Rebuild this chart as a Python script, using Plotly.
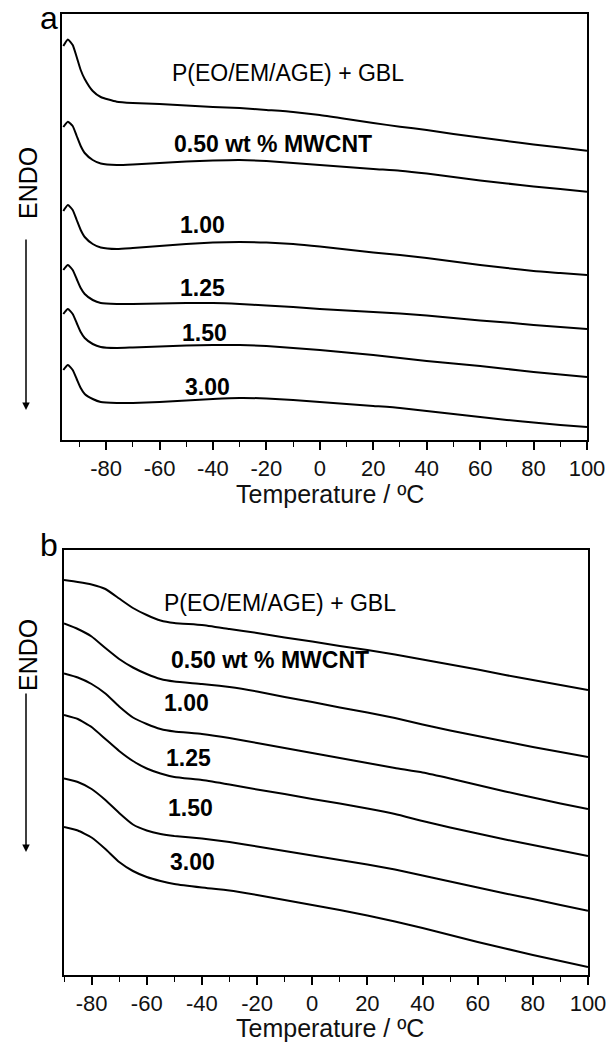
import plotly.graph_objects as go

# ---------------- Data (heat flow in a.u.) ----------------
# Panel a
temp_a = [-96, -94.3, -92.5, -91, -89.5, -88, -85, -82, -76, -70, -60, -50, -40, -30,
          -20, -10, 0, 10, 20, 30, 40, 50, 60, 70, 80, 90, 100]
a_base = [39.4, 40.05, 39.5, 38.3, 37.0, 36.1, 34.9, 34.3, 33.83, 33.7, 33.6, 33.45, 33.3, 33.2,
          33.0, 32.8, 32.5, 32.1, 31.7, 31.33, 31.0, 30.6, 30.25, 29.9, 29.55, 29.25, 28.93]
a_050 = [31.3, 31.83, 31.4, 30.4, 29.4, 28.7, 28.0, 27.65, 27.5, 27.55, 27.7, 27.85, 27.95, 28.0,
         27.9, 27.7, 27.5, 27.3, 27.1, 26.93, 26.65, 26.3, 25.95, 25.65, 25.35, 25.1, 24.83]
a_100 = [22.9, 23.5, 23.0, 22.0, 21.0, 20.3, 19.6, 19.25, 19.1, 19.2, 19.4, 19.6, 19.75, 19.8,
         19.75, 19.6, 19.35, 19.05, 18.75, 18.5, 18.2, 17.85, 17.5, 17.2, 16.9, 16.7, 16.5]
a_125 = [17.0, 17.5, 17.0, 16.1, 15.2, 14.6, 14.0, 13.7, 13.6, 13.6, 13.65, 13.7, 13.7, 13.6,
         13.45, 13.3, 13.1, 12.95, 12.8, 12.65, 12.45, 12.2, 11.95, 11.75, 11.5, 11.3, 11.1]
a_150 = [12.6, 13.1, 12.6, 11.7, 10.8, 10.2, 9.6, 9.3, 9.2, 9.25, 9.35, 9.45, 9.5, 9.5,
         9.4, 9.2, 9.0, 8.75, 8.5, 8.2, 7.9, 7.65, 7.4, 7.1, 6.8, 6.55, 6.3]
a_300 = [7.0, 7.5, 7.0, 6.1, 5.2, 4.6, 4.1, 3.8, 3.7, 3.7, 3.8, 3.95, 4.1, 4.2,
         4.15, 4.0, 3.8, 3.6, 3.4, 3.2, 2.9, 2.6, 2.3, 2.0, 1.75, 1.5, 1.3]

# Panel b
temp_b = [-90, -85, -80, -75, -70, -65, -60, -55, -50, -40, -30, -20, -10, 0,
          10, 20, 30, 40, 50, 60, 70, 80, 90, 100]
b_base = [39.5, 39.3, 39.05, 38.6, 37.65, 36.7, 36.0, 35.45, 35.2, 35.0, 34.6, 34.2, 33.75, 33.35,
          32.9, 32.5, 32.05, 31.55, 31.05, 30.55, 30.0, 29.5, 29.0, 28.5]
b_050 = [35.15, 34.6, 33.85, 32.7, 31.6, 30.75, 30.1, 29.6, 29.35, 29.1, 28.8, 28.35, 27.8, 27.3,
         26.75, 26.25, 25.7, 25.05, 24.45, 23.9, 23.35, 22.8, 22.3, 21.8]
b_100 = [30.15, 29.75, 29.1, 28.15, 26.85, 25.75, 25.1, 24.6, 24.35, 24.1, 23.7, 23.2, 22.7, 22.2,
         21.7, 21.2, 20.7, 20.25, 19.65, 19.0, 18.35, 17.75, 17.15, 16.6]
b_125 = [26.0, 25.6, 24.8, 23.6, 22.4, 21.4, 20.65, 20.15, 19.8, 19.5, 19.05, 18.55, 18.1, 17.6,
         17.15, 16.65, 16.1, 15.4, 14.75, 14.15, 13.55, 13.0, 12.45, 11.9]
b_150 = [19.65, 19.3, 18.6, 17.5, 16.2, 15.05, 14.45, 14.1, 13.9, 13.65, 13.3, 12.85, 12.4, 11.95,
         11.5, 11.05, 10.55, 9.95, 9.35, 8.75, 8.15, 7.6, 7.0, 6.43]
b_300 = [14.8, 14.45, 13.75, 12.6, 11.3, 10.4, 9.8, 9.4, 9.1, 8.75, 8.45, 8.0, 7.5, 7.0,
         6.5, 5.95, 5.35, 4.7, 4.0, 3.3, 2.65, 2.0, 1.4, 0.8]

series_names = ["P(EO/EM/AGE) + GBL", "0.50 wt % MWCNT", "1.00", "1.25", "1.50", "3.00"]
series_a = [a_base, a_050, a_100, a_125, a_150, a_300]
series_b = [b_base, b_050, b_100, b_125, b_150, b_300]

# curve label positions (temperature, heat-flow a.u.)
label_pos_a = [(-56, 36.7), (-55.3, 29.6), (-44, 21.5), (-44, 15.2), (-43.3, 10.7), (-42.2, 5.3)]
label_pos_b = [(-54.3, 37.2), (-52.1, 31.5), (-45.6, 27.2), (-44.9, 21.7), (-44.1, 16.7), (-43.4, 11.3)]

tick_vals = [-80, -60, -40, -20, 0, 20, 40, 60, 80, 100]
tick_text = ["-80", "-60", "-40", "-20", "0", "20", "40", "60", "80", "100"]
xtitle = "Temperature / ºC"

FONT = "Liberation Sans, Arial, Helvetica, sans-serif"
W, H = 609, 1044


def fx(px):
    return px / W


def fy(py):
    return 1 - py / H


fig = go.Figure()
for ys in series_a:
    fig.add_trace(go.Scatter(x=temp_a, y=ys, mode="lines",
                             line=dict(color="black", width=2, shape="spline", smoothing=0.5),
                             xaxis="x", yaxis="y", showlegend=False, hoverinfo="skip"))
for ys in series_b:
    fig.add_trace(go.Scatter(x=temp_b, y=ys, mode="lines",
                             line=dict(color="black", width=2, shape="spline", smoothing=0.4),
                             xaxis="x2", yaxis="y2", showlegend=False, hoverinfo="skip"))


def xax(domain, rng, anchor):
    return dict(domain=domain, range=rng, anchor=anchor, showline=True, mirror=True, automargin=False,
                linecolor="black", linewidth=1.6, showgrid=False, zeroline=False,
                ticks="outside", ticklen=8, tickwidth=1.5, tickcolor="black",
                tickvals=tick_vals, ticktext=tick_text,
                tickfont=dict(family=FONT, size=22, color="#111"),
                minor=dict(dtick=10, tick0=-80, ticks="outside", ticklen=5, tickwidth=1.3, tickcolor="black"))


def yax(domain, rng, anchor):
    return dict(domain=domain, range=rng, anchor=anchor, showline=True, mirror=True, automargin=False,
                linecolor="black", linewidth=1.6, showgrid=False, zeroline=False,
                showticklabels=False, ticks="")


fig.update_layout(
    width=W, height=H, margin=dict(l=0, r=0, t=0, b=0, autoexpand=False),
    paper_bgcolor="white", plot_bgcolor="white",
    xaxis=xax([fx(62), fx(587)], [-96.5, 100], "y"),
    yaxis=yax([fy(440), fy(14)], [0, 42.6], "x"),
    xaxis2=xax([fx(64), fx(588)], [-90, 100], "y2"),
    yaxis2=yax([fy(975), fy(550)], [0, 42.5], "x2"),
)

ann = []
for axn, positions in [("", label_pos_a), ("2", label_pos_b)]:
    for i, (name, (tx, ty)) in enumerate(zip(series_names, positions)):
        bold = i > 0
        ann.append(dict(x=tx, y=ty, xref="x" + axn, yref="y" + axn,
                        text=("<b>%s</b>" % name) if bold else name,
                        showarrow=False, xanchor="left" if i < 2 else "center", yanchor="middle",
                        font=dict(family=FONT, size=23, color="black")))

# x-axis titles (bottom edge of the text box given in window pixels)
for (cx, cy_bottom) in [(330, 510), (330, 1044)]:
    ann.append(dict(x=fx(cx), y=fy(cy_bottom), xref="paper", yref="paper", text=xtitle, showarrow=False,
                    xanchor="center", yanchor="bottom", font=dict(family=FONT, size=25, color="#111")))

# panel letters
ann.append(dict(x=fx(38), y=fy(18), xref="paper", yref="paper", text="a", showarrow=False,
                font=dict(family=FONT, size=32, color="black"), xanchor="left", yanchor="middle"))
ann.append(dict(x=fx(38), y=fy(545), xref="paper", yref="paper", text="b", showarrow=False,
                font=dict(family=FONT, size=32, color="black"), xanchor="left", yanchor="middle"))

# ENDO labels with arrows
for (ty, y0, y1) in [(183, 238, 410), (655, 692, 852)]:
    ann.append(dict(x=fx(28), y=fy(ty), xref="paper", yref="paper", text="ENDO", textangle=-90,
                    showarrow=False, xanchor="center", yanchor="middle",
                    font=dict(family=FONT, size=25, color="black")))
    ann.append(dict(x=fx(26), y=fy(y1), xref="paper", yref="paper", text="", showarrow=True,
                    ax=0, ay=-(y1 - y0), axref="pixel", ayref="pixel", arrowhead=2, arrowsize=1,
                    arrowwidth=1.5, arrowcolor="black"))

fig.update_layout(annotations=ann)
# remove the browser's default 8px body margin so the figure fills the window exactly
fig.write_html("out.html", config={"displayModeBar": False},
               post_script="document.body.style.margin='0px';")
